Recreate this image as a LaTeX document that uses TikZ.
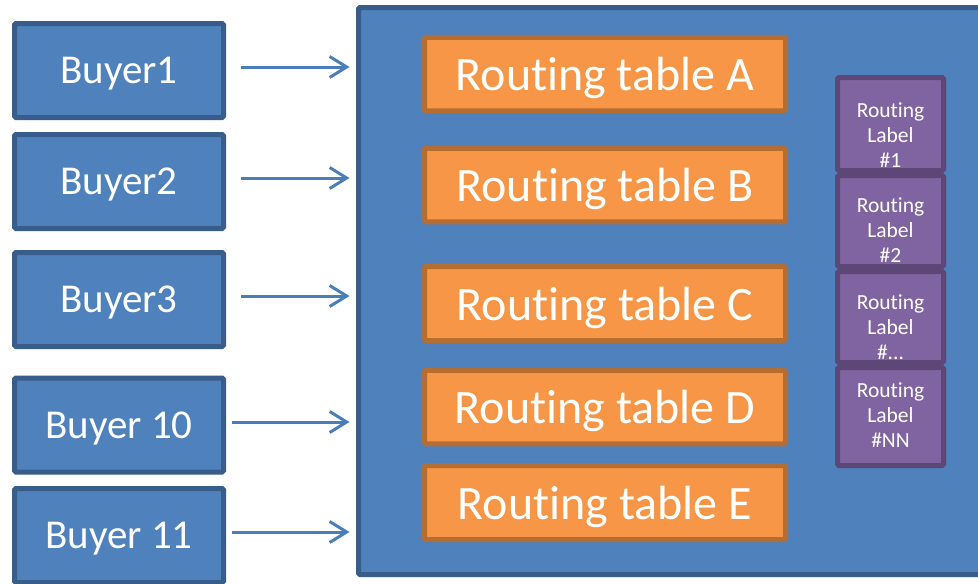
\documentclass[tikz,border=0pt]{standalone}
\usepackage{fontspec}
\setmainfont{Carlito}[Ligatures=CommonOff]
\usetikzlibrary{arrows.meta}
\definecolor{bfill}{HTML}{4F81BD}
\definecolor{bline}{HTML}{385D8A}
\definecolor{ofill}{HTML}{F79646}
\definecolor{oline}{HTML}{B66D31}
\definecolor{pfill}{HTML}{8064A2}
\definecolor{pline}{HTML}{5C4776}
\definecolor{arrc}{HTML}{4A7EBB}
\tikzset{
  buyerbox/.style={draw=bline, fill=bfill, line width=5pt, rounded corners=1.5pt,
    minimum width=209pt, minimum height=94pt, inner sep=0pt, outer sep=0pt,
    text=white, text depth=0pt, font=\fontsize{41}{46}\selectfont},
  container/.style={draw=bline, fill=bfill, line width=5pt, rounded corners=1.5pt,
    minimum width=639pt, minimum height=567pt, inner sep=0pt, outer sep=0pt},
  tablebox/.style={draw=oline, fill=ofill, line width=5pt, rounded corners=1.5pt,
    minimum width=361pt, minimum height=73.5pt, inner sep=0pt, outer sep=0pt,
    text=white, text depth=0pt, font=\fontsize{48}{53}\selectfont},
  labelbox/.style={draw=pline, fill=pfill, line width=5pt, rounded corners=1.5pt,
    minimum width=106pt, inner sep=0pt, outer sep=0pt},
  labeltext/.style={text=white, align=center, inner sep=0pt,
    font=\fontsize{21.5}{25}\selectfont},
  flow/.style={draw=arrc, line width=3pt,
    -{Straight Barb[length=17pt, width=21pt, line width=3pt]}},
}
\begin{document}
\begin{tikzpicture}[x=1pt, y=-1pt]
\useasboundingbox (0,0) rectangle (978,584);
\clip (0,0) rectangle (978,584);
\fill[white] (0,0) rectangle (978,584);

% container
\node[container] (ct) at (678,291) {};

% buyers
\node[buyerbox] (b1) at (119,70.5) {Buyer1};
\node[buyerbox] (b2) at (119,181.5) {Buyer2};
\node[buyerbox] (b3) at (119,299.5) {Buyer3};
\node[buyerbox] (b10) at (119,425) {Buyer 10};
\node[buyerbox] (b11) at (119,535.5) {Buyer 11};

% arrows
\draw[flow] ([xshift=17pt,yshift=3.5pt]b1.east) -- ([xshift=-9pt,yshift=3.5pt]b1.east -| ct.west);
\draw[flow] ([xshift=17pt,yshift=3.5pt]b2.east) -- ([xshift=-9pt,yshift=3.5pt]b2.east -| ct.west);
\draw[flow] ([xshift=17pt,yshift=3.5pt]b3.east) -- ([xshift=-9pt,yshift=3.5pt]b3.east -| ct.west);
\draw[flow] ([xshift=8pt,yshift=3pt]b10.east) -- ([xshift=-9pt,yshift=3pt]b10.east -| ct.west);
\draw[flow] ([xshift=8pt,yshift=3.5pt]b11.east) -- ([xshift=-9pt,yshift=3.5pt]b11.east -| ct.west);

% routing tables
\node[tablebox] (ta) at (605,74) {Routing table A};
\node[tablebox] (tb) at (605,185) {Routing table B};
\node[tablebox, minimum height=74pt] (tc) at (605,303.5) {Routing table C};
\node[tablebox] (td) at (605,407) {Routing table D};
\node[tablebox, minimum height=74pt] (te) at (605,502.5) {Routing table E};

% routing labels
\node[labelbox, minimum height=93pt] (l1) at (890.5,124) {};
\node[labelbox, minimum height=91pt] (l2) at (890.5,221) {};
\node[labelbox, minimum height=91pt] (l3) at (890.5,317) {};
\node[labelbox, minimum height=98pt] (l4) at (890.5,416.5) {};
\node[labeltext] (l1t) at ([yshift=-11pt]l1.center) {Routing\\Label\\\#1};
\node[labeltext] (l2t) at ([yshift=-9pt]l2.center) {Routing\\Label\\\#2};
\node[labeltext] (l3t) at ([yshift=-10pt]l3.center) {Routing\\Label\\\#...};
\node[labeltext] (l4t) at ([yshift=1pt]l4.center) {Routing\\Label\\\#NN};
\end{tikzpicture}
\end{document}
